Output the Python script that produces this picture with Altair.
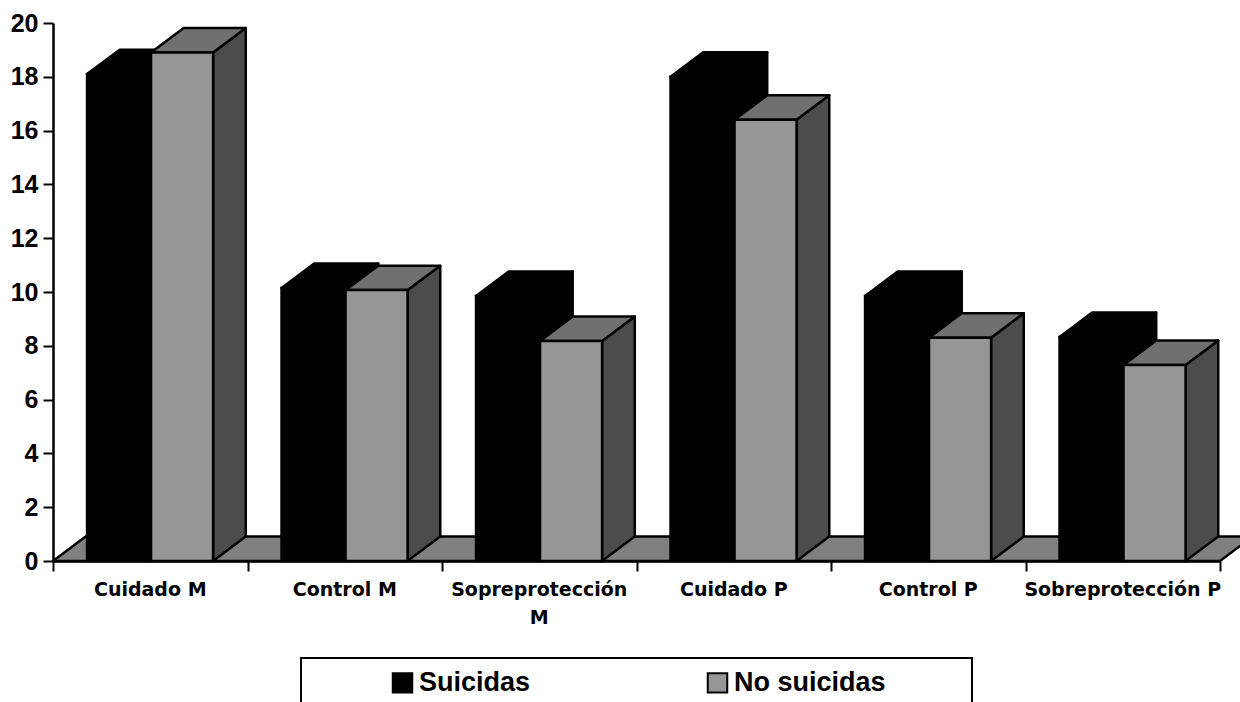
import altair as alt
import pandas as pd

categories = ["Cuidado M", "Control M", "Sopreprotección M", "Cuidado P", "Control P", "Sobreprotección P"]
category_lines = [["Cuidado M"], ["Control M"], ["Sopreprotección", "M"], ["Cuidado P"], ["Control P"], ["Sobreprotección P"]]
series_names = ["Suicidas", "No suicidas"]
suicidas = [18.1, 10.15, 9.85, 18.0, 9.85, 8.33]
no_suicidas = [18.9, 10.07, 8.18, 16.4, 8.3, 7.29]

# Oblique projection used for the depth of the bars and the floor
DEPTH_X = 0.168
DEPTH_Y = 0.91
BAR_LEFT = {"Suicidas": 0.175, "No suicidas": 0.504}
BAR_WIDTH = {"Suicidas": 0.329, "No suicidas": 0.319}
EDGE = 2.5

FACE_FILL = {
    "Suicidas": {"top": "#000000", "side": "#000000"},
    "No suicidas": {"top": "#707070", "side": "#4c4c4c"},
}

x_scale = alt.Scale(domain=[0, 6], nice=False, zero=False)
y_scale = alt.Scale(domain=[0, 20], nice=False)
X = lambda **kw: alt.X("x:Q", scale=x_scale, title=None, **kw)
Y = lambda **kw: alt.Y("lo:Q", scale=y_scale, title=None, **kw)


def bar_faces(series, values):
    top, side, front = [], [], []
    for i, v in enumerate(values):
        xl = i + BAR_LEFT[series]
        xr = xl + BAR_WIDTH[series]
        front.append({"x": xl, "x2": xr, "lo": 0, "hi": v, "series": series})
        for x, lo, hi in [(xl, v, v), (xl + DEPTH_X, v, v + DEPTH_Y), (xr, v, v + DEPTH_Y), (xr + DEPTH_X, v + DEPTH_Y, v + DEPTH_Y)]:
            top.append({"x": x, "lo": lo, "hi": hi, "g": i})
        for x, lo, hi in [(xr, 0, v), (xr + DEPTH_X, DEPTH_Y, v + DEPTH_Y)]:
            side.append({"x": x, "lo": lo, "hi": hi, "g": i})
    return pd.DataFrame(top), pd.DataFrame(side), pd.DataFrame(front)


def area_layer(df, fill):
    return (
        alt.Chart(df)
        .mark_area(fill=fill, stroke="black", strokeWidth=EDGE, strokeJoin="round", orient="vertical", clip=False)
        .encode(x=X(), y=Y(), y2="hi:Q", detail="g:N")
    )


# Gray floor running under all the groups
floor = pd.DataFrame(
    {
        "x": [0, DEPTH_X, 6, 6 + DEPTH_X],
        "lo": [0, 0, 0, DEPTH_Y],
        "hi": [0, DEPTH_Y, DEPTH_Y, DEPTH_Y],
        "g": [0, 0, 0, 0],
    }
)
layers = [area_layer(floor, "#808080")]

color = alt.Color(
    "series:N",
    scale=alt.Scale(domain=series_names, range=["#000000", "#969696"]),
    legend=alt.Legend(
        title=None,
        orient="none",
        legendX=336,
        legendY=646,
        direction="horizontal",
        columns=2,
        padding=0,
        symbolType="square",
        symbolSize=380,
        symbolStrokeColor="black",
        symbolStrokeWidth=2,
        labelFont="Liberation Sans",
        labelFontWeight="bold",
        labelFontSize=27,
        labelColor="black",
        labelOffset=3,
        labelLimit=400,
        columnPadding=172,
    ),
)

for name, values in zip(series_names, [suicidas, no_suicidas]):
    top, side, front = bar_faces(name, values)
    layers.append(area_layer(side, FACE_FILL[name]["side"]))
    layers.append(area_layer(top, FACE_FILL[name]["top"]))
    layers.append(
        alt.Chart(front)
        .mark_rect(stroke="black", strokeWidth=EDGE)
        .encode(
            x=X(
                axis=alt.Axis(
                    values=list(range(7)),
                    labels=False,
                    grid=False,
                    tickSize=10,
                    tickWidth=2,
                    tickColor="black",
                    domainWidth=2.5,
                    domainColor="black",
                    zindex=1,
                )
            ),
            x2="x2:Q",
            y=Y(
                axis=alt.Axis(
                    values=list(range(0, 21, 2)),
                    grid=False,
                    tickSize=10,
                    tickWidth=2,
                    tickColor="black",
                    domainWidth=2.5,
                    domainColor="black",
                    labelFont="Liberation Sans",
                    labelFontWeight="bold",
                    labelFontSize=25,
                    labelColor="black",
                    labelPadding=5,
                    zindex=1,
                )
            ),
            y2="hi:Q",
            fill=color,
        )
    )

# Category names under the axis, one of them on two lines
cat_df = pd.DataFrame({"x": [i + 0.5 for i in range(6)], "name": categories, "lines": category_lines})
labels = (
    alt.Chart(cat_df)
    .mark_text(
        font="DejaVu Sans",
        fontWeight="bold",
        fontSize=19,
        color="black",
        align="center",
        baseline="top",
        lineHeight=28,
    )
    .encode(x=alt.X("x:Q", scale=x_scale, title=None), y=alt.value(558), text="lines:N")
)

# Frame around the legend, running off the bottom of the page
frame = (
    alt.Chart(pd.DataFrame({"a": [0]}))
    .mark_rect(fill="white", stroke="black", strokeWidth=2)
    .encode(x=alt.value(248), x2=alt.value(919), y=alt.value(635), y2=alt.value(700))
)

chart = (
    alt.layer(frame, *layers, labels)
    .resolve_scale(x="shared", y="shared")
    .properties(
        width=1167,
        height=538,
        padding={"left": 53, "top": 23, "right": 20, "bottom": 141},
        autosize=alt.AutoSizeParams(type="none"),
        background="white",
    )
    .configure_view(stroke=None)
)

chart.save("out.html", embed_options={"renderer": "svg", "actions": False})
